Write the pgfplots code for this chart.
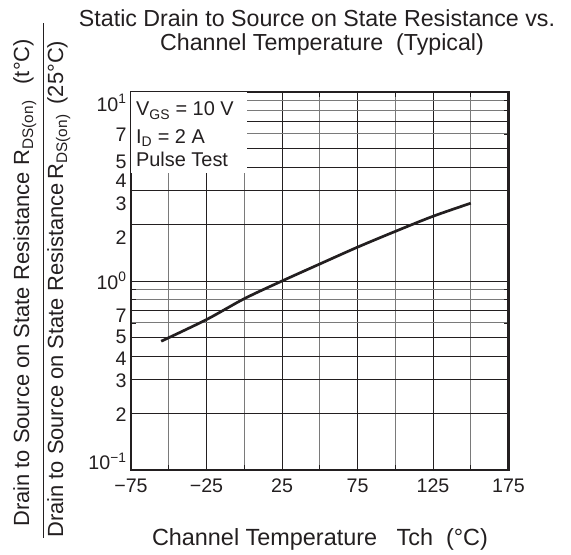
\documentclass[border=0pt]{standalone}
\usepackage{fontspec}
\setmainfont{Liberation Sans}
\usepackage{pgfplots}
\pgfplotsset{compat=1.18}
\definecolor{ink}{HTML}{231F20}
\definecolor{gridgray}{HTML}{7A7A7A}
\newcommand{\yl}[2]{\raisebox{#1bp}[0pt][0pt]{#2}}
\pgfplotsset{
 layers/mylayers/.define layer set={axis background,axis grid,legendbg,axis ticks,axis lines,axis tick labels,pre main,main,axis descriptions,axis foreground}{
    grid style={/pgfplots/on layer=axis grid},
    tick style={/pgfplots/on layer=axis ticks},
    axis line style={/pgfplots/on layer=axis lines},
    label style={/pgfplots/on layer=axis descriptions},
    title style={/pgfplots/on layer=axis descriptions},
    ticklabel style={/pgfplots/on layer=axis tick labels},
 },
}
\begin{document}
\begin{tikzpicture}
\begin{axis}[
  set layers=mylayers,
  at={(131bp,85bp)}, anchor=south west,
  scale only axis, width=377.5bp, height=378bp,
  xmin=-75, xmax=175, ymode=log, ymin=0.1, ymax=10,
  xtick={-75,-25,25,75,125,175},
  xticklabels={−75,−25,25,75,125,175},
  minor xtick={-50,0,50,100,150},
  ytick={0.2,0.3,2,3},
  yticklabels={\yl{-8}{2},\yl{-8}{3},\yl{-20}{2},\yl{-20}{3}},
  extra y ticks={0.1,0.4,0.5,0.7,1,4,5,7,10},
  extra y tick labels={\yl{0}{10\textsuperscript{−1}},\yl{-9}{4},\yl{-6}{5},\yl{-12}{7},\yl{-8.5}{10\textsuperscript{0}},\yl{-20}{4},\yl{-20}{5},\yl{-20}{7},\yl{-19.5}{10\textsuperscript{1}}},
  extra y tick style={grid style={gridgray, line width=1.1bp}},
  minor ytick={0.6,0.8,0.9,6,8,9},
  grid=both,
  major grid style={ink, line width=0.9bp},
  minor grid style={gridgray, line width=1.1bp},
  tick align=inside,
  major tick length=5bp, minor tick length=5bp,
  tick style={ink, line width=0.8bp},
  axis line style={ink, line width=2.6bp},
  tick label style={font=\fontsize{19.7}{22}\selectfont, text=ink},
  xticklabel style={yshift=-5bp},
  yticklabel style={xshift=-1bp},
  clip=false,
]
\fill[white, on layer=legendbg] (axis cs:-75,3.75) rectangle (axis cs:2,10);
\addplot[ink, line width=2.7bp, smooth] coordinates {
  (-55,0.48) (-25,0.625) (0,0.806) (25,1.0) (50,1.23)
  (75,1.51) (100,1.83) (125,2.2) (150,2.58)
};
\node[anchor=base west, inner sep=0, text=ink, font=\fontsize{20}{24}\selectfont] at (rel axis cs:0.013,0.9365) {V\textsubscript{GS} = 10 V};
\node[anchor=base west, inner sep=0, text=ink, font=\fontsize{20}{24}\selectfont] at (rel axis cs:0.013,0.865) {I\textsubscript{D} = 2 A};
\node[anchor=base west, inner sep=0, text=ink, font=\fontsize{20}{24}\selectfont] at (rel axis cs:0.013,0.8016) {Pulse Test};
\end{axis}
% title
\node[anchor=base, inner sep=0, text=ink, font=\fontsize{23.3}{26}\selectfont] at (317bp,528.3bp) {Static Drain to Source on State Resistance vs.};
\node[anchor=base, inner sep=0, text=ink, font=\fontsize{23.3}{26}\selectfont] at (322bp,504.5bp) {Channel Temperature\ \ (Typical)};
% x label
\node[anchor=base, inner sep=0, text=ink, font=\fontsize{23.5}{26}\selectfont] at (320bp,10bp) {Channel Temperature\ \ \ Tch\ \ (°C)};
% y label (fraction)
\node[rotate=90, anchor=base west, inner sep=0, text=ink, font=\fontsize{22}{24}\selectfont] at (29bp,28bp) {Drain to Source on State Resistance\hspace{7bp}R\textsubscript{DS(on)}\hspace{16bp}(t°C)};
\node[rotate=90, anchor=base west, inner sep=0, text=ink, font=\fontsize{22}{24}\selectfont] at (63bp,17bp) {Drain to Source on State Resistance\hspace{4bp}R\textsubscript{DS(on)}\hspace{10bp}(25°C)};
\draw[ink, line width=1bp] (43bp,17bp) -- (43bp,532bp);
\path (0,0) rectangle (571bp,555bp);
\end{tikzpicture}
\end{document}
